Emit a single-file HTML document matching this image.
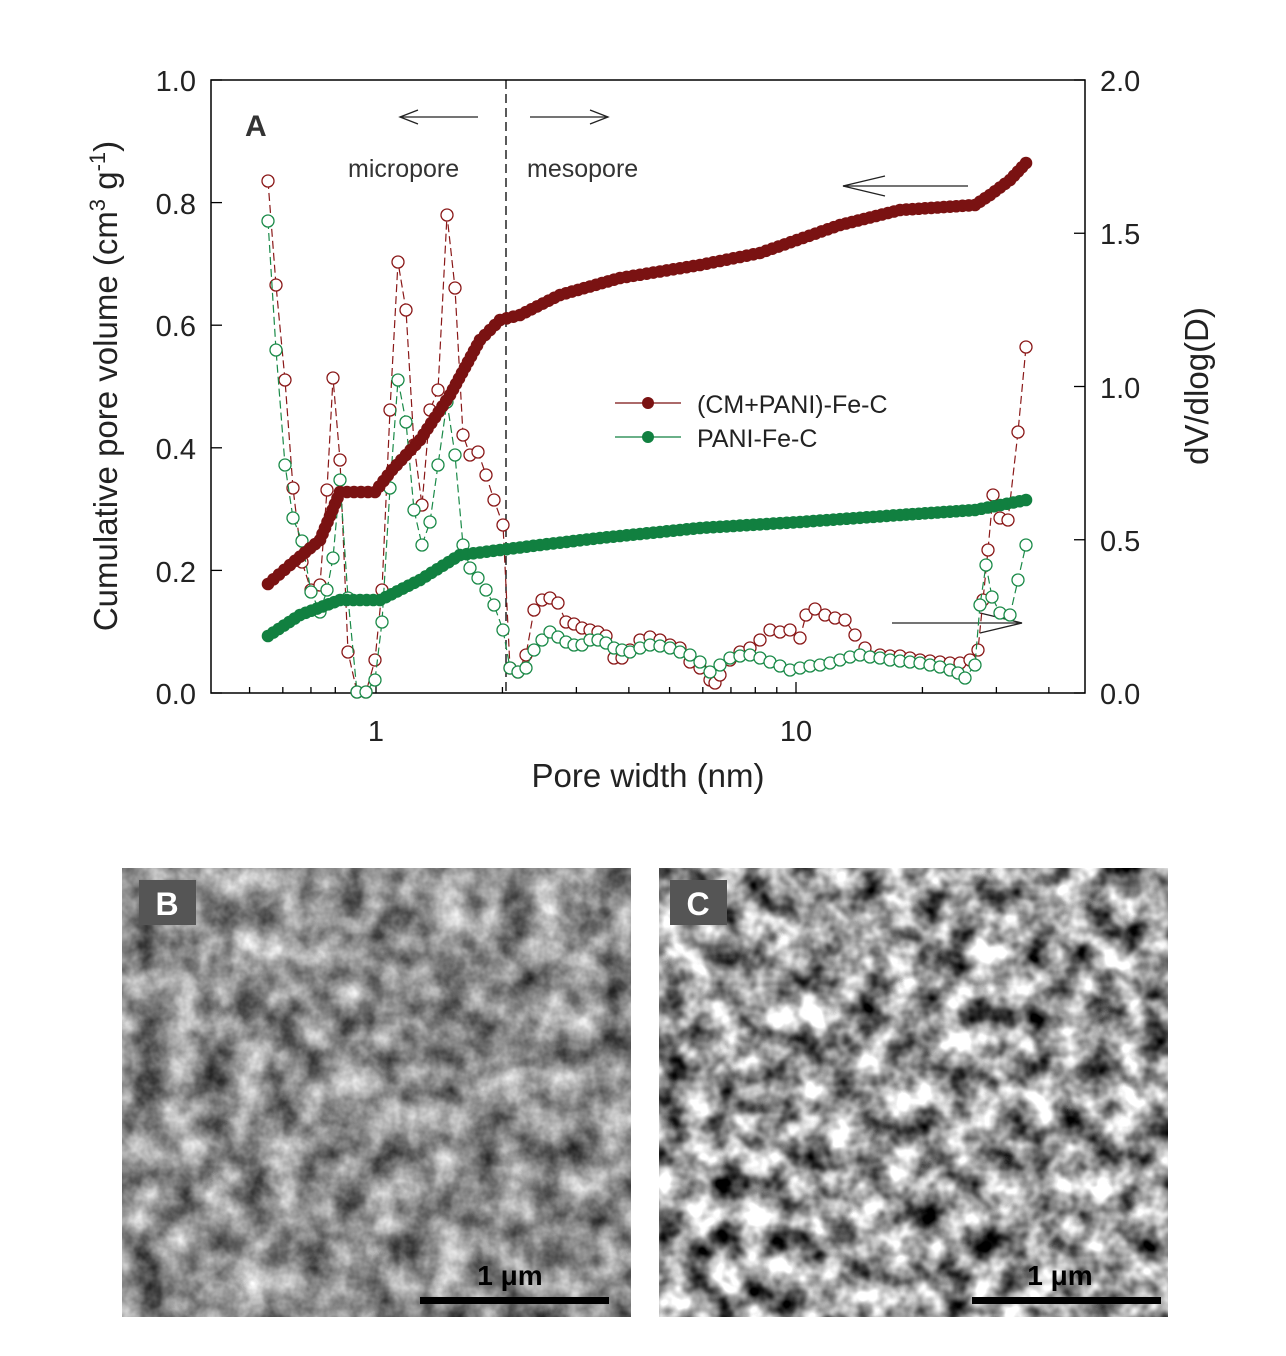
<!DOCTYPE html>
<html><head><meta charset="utf-8"><style>
body{margin:0;background:#fff;width:1286px;height:1356px;overflow:hidden;font-family:"Liberation Sans",sans-serif}
svg{position:absolute;left:0;top:0}
</style></head><body>
<svg id="s" width="1286" height="1356" xmlns="http://www.w3.org/2000/svg">
<defs>
<filter id="semB" x="0" y="0" width="100%" height="100%" color-interpolation-filters="sRGB">
<feTurbulence type="fractalNoise" baseFrequency="0.03" numOctaves="4" seed="3"/>
<feColorMatrix type="matrix" values="1.1 0 0 0 0.0  1.1 0 0 0 0.0  1.1 0 0 0 0.0  0 0 0 0 1"/>
</filter>
<filter id="semC" x="0" y="0" width="100%" height="100%" color-interpolation-filters="sRGB">
<feTurbulence type="fractalNoise" baseFrequency="0.035" numOctaves="3" seed="7"/>
<feColorMatrix type="matrix" values="1.9 0 0 0 -0.35  1.9 0 0 0 -0.35  1.9 0 0 0 -0.35  0 0 0 0 1"/>
</filter>
</defs>
<rect x="122" y="868" width="509" height="449" fill="#888" filter="url(#semB)"/>
<rect x="659" y="868" width="509" height="449" fill="#999" filter="url(#semC)"/>
<rect x="139" y="880" width="57" height="45" fill="#555"/>
<text x="167" y="915" font-size="32" font-weight="bold" fill="#fff" text-anchor="middle">B</text>
<rect x="670" y="880" width="57" height="45" fill="#555"/>
<text x="698" y="915" font-size="32" font-weight="bold" fill="#fff" text-anchor="middle">C</text>
<rect x="420" y="1297" width="189" height="7" fill="#000"/>
<text x="510" y="1285" font-size="28" font-weight="bold" fill="#000" text-anchor="middle">1 μm</text>
<rect x="972" y="1297" width="189" height="7" fill="#000"/>
<text x="1060" y="1285" font-size="28" font-weight="bold" fill="#000" text-anchor="middle">1 μm</text>
<rect x="211" y="80" width="874" height="613" fill="none" stroke="#000" stroke-width="1.5"/>
<line x1="506" y1="80" x2="506" y2="693" stroke="#000" stroke-width="1.3" stroke-dasharray="9,5"/>
<g font-size="29" fill="#222">
<text x="196" y="91" text-anchor="end">1.0</text>
<text x="196" y="214" text-anchor="end">0.8</text>
<text x="196" y="336" text-anchor="end">0.6</text>
<text x="196" y="459" text-anchor="end">0.4</text>
<text x="196" y="582" text-anchor="end">0.2</text>
<text x="196" y="704" text-anchor="end">0.0</text>
<text x="1100" y="91">2.0</text>
<text x="1100" y="244">1.5</text>
<text x="1100" y="398">1.0</text>
<text x="1100" y="551">0.5</text>
<text x="1100" y="704">0.0</text>
<text x="376" y="741" text-anchor="middle">1</text>
<text x="796" y="741" text-anchor="middle">10</text>
</g>
<text x="648" y="787" font-size="33" fill="#222" text-anchor="middle">Pore width (nm)</text>
<text transform="translate(117,386) rotate(-90)" font-size="33" fill="#222" text-anchor="middle">Cumulative pore volume (cm<tspan font-size="22" dy="-12">3</tspan><tspan dy="12"> g</tspan><tspan font-size="22" dy="-12">-1</tspan><tspan dy="12">)</tspan></text>
<text transform="translate(1208,386) rotate(-90)" font-size="33" fill="#222" text-anchor="middle">dV/dlog(D)</text>
<text x="245" y="136" font-size="30" font-weight="bold" fill="#333">A</text>
<text x="348" y="177" font-size="25" fill="#333">micropore</text>
<text x="527" y="177" font-size="25" fill="#333">mesopore</text>
<g stroke="#222" stroke-width="1.3" fill="none">
<line x1="400" y1="117" x2="478" y2="117"/><polyline points="418,110 400,117 418,124"/>
<line x1="530" y1="117" x2="608" y2="117"/><polyline points="590,110 608,117 590,124"/>
<line x1="843" y1="186" x2="968" y2="186"/><polyline points="885,176 843,186 885,196"/>
<line x1="892" y1="623" x2="1022" y2="623"/><polyline points="980,613 1022,623 980,633"/>
</g>
<g id="ticks" stroke="#000" stroke-width="1.3"></g>
<g id="data"></g>
<line x1="615" y1="403" x2="681" y2="403" stroke="#7a1212" stroke-width="1.3"/>
<circle cx="648" cy="403" r="6" fill="#7a1212"/>
<text x="697" y="413" font-size="25" fill="#222">(CM+PANI)-Fe-C</text>
<line x1="615" y1="437" x2="681" y2="437" stroke="#118040" stroke-width="1.3"/>
<circle cx="648" cy="437" r="6" fill="#118040"/>
<text x="697" y="447" font-size="25" fill="#222">PANI-Fe-C</text>
</svg>
<script>
var NS="http://www.w3.org/2000/svg";
function el(p,t,a){var e=document.createElementNS(NS,t);for(var k in a)e.setAttribute(k,a[k]);p.appendChild(e);return e;}
var tk=document.getElementById("ticks");
for(var i=0;i<=5;i++){var y=693-i*122.6;el(tk,"line",{x1:211,y1:y,x2:222,y2:y});}
for(var i=0;i<=4;i++){var y=693-i*153.25;el(tk,"line",{x1:1074,y1:y,x2:1085,y2:y});}
var ls=[0.5,0.6,0.7,0.8,0.9,1,2,3,4,5,6,7,8,9,10,20,30,40];
ls.forEach(function(v){var x=376+420*Math.log10(v);var L=(v==1||v==10)?11:6;el(tk,"line",{x1:x,y1:693,x2:x,y2:693-L});});
var d=document.getElementById("data");
function path(pts){return pts.map(function(p,i){return (i?"L":"M")+p[0]+","+p[1]}).join(" ");}
function dense(pts,step){var out=[];for(var i=0;i<pts.length-1;i++){var a=pts[i],b=pts[i+1];var n=Math.max(1,Math.round(Math.hypot(b[0]-a[0],b[1]-a[1])/step));for(var j=0;j<n;j++)out.push([a[0]+(b[0]-a[0])*j/n,a[1]+(b[1]-a[1])*j/n]);}out.push(pts[pts.length-1]);return out;}
var rO=[[268,181],[276,285],[285,380],[293,488],[302,562],[311,590],[320,585],[327,490],[333,378],[340,460],[348,652],[357,692],[366,692],[375,660],[382,590],[390,410],[398,262],[406,310],[414,445],[422,505],[430,410],[438,390],[447,215],[455,288],[463,435],[470,455],[478,452],[486,475],[494,500],[503,525],[510,668],[518,672],[526,655],[534,610],[542,600],[550,598],[558,603],[566,622],[574,624],[582,628],[590,630],[598,632],[606,636],[614,658],[622,658],[630,650],[640,640],[650,637],[660,640],[670,645],[680,648],[690,662],[700,668],[710,680],[715,683],[720,675],[730,660],[740,652],[750,648],[760,640],[770,630],[780,632],[790,630],[800,638],[806,615],[815,609],[825,615],[835,618],[845,620],[855,635],[865,648],[880,655],[890,656],[900,656],[910,658],[920,660],[930,661],[940,662],[950,663],[960,663],[970,660],[978,650],[983,600],[988,550],[993,495],[1000,518],[1008,520],[1018,432],[1026,347]];
var gO=[[268,221],[276,350],[285,465],[293,518],[302,541],[311,592],[320,612],[327,590],[333,558],[340,480],[348,598],[357,692],[366,692],[375,680],[382,622],[390,488],[398,380],[406,422],[414,510],[422,545],[430,522],[438,465],[447,402],[455,455],[463,545],[470,568],[478,578],[486,590],[494,605],[503,630],[510,668],[518,672],[526,668],[534,650],[542,640],[550,632],[558,637],[566,642],[574,645],[582,645],[590,640],[598,640],[606,643],[614,648],[622,650],[630,652],[640,648],[650,645],[660,646],[670,648],[680,652],[690,655],[700,662],[710,672],[720,665],[730,658],[740,656],[750,655],[760,658],[770,662],[780,666],[790,670],[800,668],[810,666],[820,665],[830,663],[840,660],[850,657],[860,655],[870,657],[880,658],[890,660],[900,661],[910,662],[920,663],[930,665],[940,667],[950,670],[958,673],[965,678],[975,665],[980,605],[986,565],[992,597],[1000,613],[1010,615],[1018,580],[1026,545]];
var rC=[[268,584],[290,565],[320,540],[340,492],[375,492],[392,470],[420,440],[450,395],[480,340],[500,320],[520,315],[560,295],[620,278],[700,265],[760,253],[840,225],[900,210],[975,205],[990,195],[1010,180],[1026,163]];
var gC=[[268,636],[300,615],[340,600],[380,600],[420,580],[460,555],[500,550],[540,545],[600,538],[700,528],[800,522],[900,515],[975,510],[1026,500]];
function open(pts,c){el(d,"path",{d:path(pts),fill:"none",stroke:c,"stroke-width":1.2,"stroke-dasharray":"8,4"});pts.forEach(function(p){el(d,"circle",{cx:p[0],cy:p[1],r:6,fill:"#fff",stroke:c,"stroke-width":1.3});});}
function solid(pts,c){el(d,"path",{d:path(pts),fill:"none",stroke:c,"stroke-width":1.5});dense(pts,6.5).forEach(function(p){el(d,"circle",{cx:p[0],cy:p[1],r:6.3,fill:c});});}
open(rO,"#8a1818");open(gO,"#1a8a48");solid(rC,"#7a1212");solid(gC,"#118040");
</script>
</body></html>
